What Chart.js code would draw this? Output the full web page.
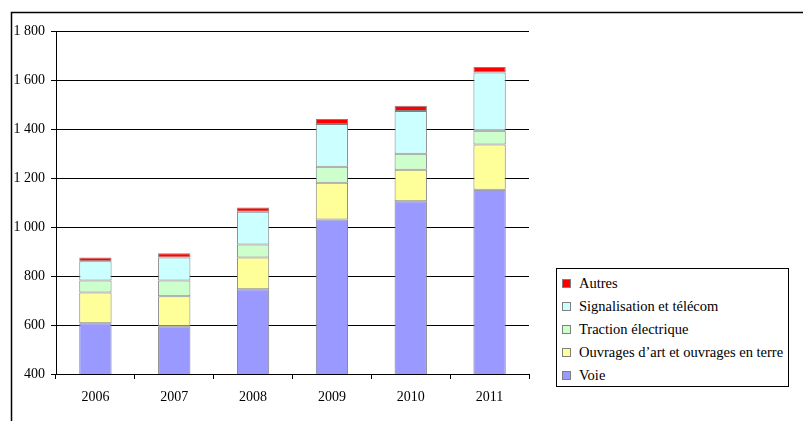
<!DOCTYPE html>
<html>
<head>
<meta charset="utf-8">
<script src="https://cdn.jsdelivr.net/npm/chart.js@4"></script>
<style>
  body { margin: 0; background: #fff; }
  #wrap { position: relative; width: 803px; height: 421px; }
  #legend {
    position: absolute; left: 556px; top: 268px; width: 231px; height: 113px;
    border: 1px solid #000; background: #fff;
    font-family: "Liberation Serif", serif; font-size: 14.5px; color: #000;
    padding-top: 4px; box-sizing: content-box;
  }
  #legend div { height: 23px; line-height: 21px; white-space: nowrap; }
  #legend span.box {
    display: inline-block; width: 7px; height: 7px; border: 1px solid #808080;
    margin: 0 8px 0 5px; vertical-align: 0px;
  }
</style>
</head>
<body>
<div id="wrap">
  <canvas id="chart" width="803" height="421"></canvas>
  <div id="legend"></div>
</div>
<script>
let years = ["2006", "2007", "2008", "2009", "2010", "2011"];
let voie = [607, 595, 746, 1031, 1105, 1152];
let ouvrages = [126, 122, 130, 150, 129, 185];
let traction = [49, 65, 53, 65, 65, 56];
let signalisation = [78, 94, 133, 174, 174, 238];
let autres = [16, 17, 18, 21, 22, 22];
let yTicks = [400, 600, 800, 1000, 1200, 1400, 1600, 1800];

let series = [
  { label: "Voie", data: voie, color: "#9999ff" },
  { label: "Ouvrages d\u2019art et ouvrages en terre", data: ouvrages, color: "#ffff99" },
  { label: "Traction électrique", data: traction, color: "#ccffcc" },
  { label: "Signalisation et télécom", data: signalisation, color: "#ccffff" },
  { label: "Autres", data: autres, color: "#ff0000" }
];

// legend, top item is the last series
let legend = document.getElementById("legend");
for (let i = series.length - 1; i >= 0; i--) {
  let row = document.createElement("div");
  let box = document.createElement("span");
  box.className = "box";
  box.style.background = series[i].color;
  row.appendChild(box);
  row.appendChild(document.createTextNode(series[i].label));
  legend.appendChild(row);
}

// outer frame (top and left lines only)
let framePlugin = {
  id: "frame",
  afterDraw(chart) {
    let c = chart.ctx;
    c.save();
    c.strokeStyle = "#000";
    c.lineWidth = 1.5;
    c.beginPath();
    c.moveTo(803, 12.5);
    c.lineTo(11.5, 12.5);
    c.lineTo(11.5, 421);
    c.stroke();
    c.restore();
  }
};

let font = { family: "'Liberation Serif', serif", size: 14 };

new Chart(document.getElementById("chart"), {
  type: "bar",
  data: {
    labels: years,
    datasets: series.map(s => ({
      label: s.label,
      data: s.data,
      backgroundColor: s.color,
      borderColor: "#808080",
      borderWidth: 1,
      borderSkipped: false,
      barPercentage: 0.41,
      categoryPercentage: 1
    }))
  },
  options: {
    responsive: false,
    animation: false,
    layout: { padding: { left: 12, top: 31, right: 274, bottom: 0 } },
    plugins: { legend: { display: false }, tooltip: { enabled: false } },
    scales: {
      x: {
        stacked: true,
        grid: { drawOnChartArea: false, color: "#000", tickLength: 5, tickColor: "#000" },
        border: { color: "#000", width: 1 },
        ticks: { color: "#000", font: font, padding: 10, maxRotation: 0 },
        afterFit(scale) { scale.height = 47; }
      },
      y: {
        stacked: true,
        min: 400,
        max: 1800,
        afterBuildTicks(scale) { scale.ticks = yTicks.map(v => ({ value: v })); },
        grid: { color: "#000", lineWidth: 1, tickLength: 5, tickColor: "#000" },
        border: { color: "#000", width: 1 },
        ticks: {
          color: "#000", font: font, padding: 6,
          callback: v => String(v).replace(/\B(?=(\d{3})+(?!\d))/g, " ")
        },
        afterFit(scale) { scale.width = 44; }
      }
    }
  },
  plugins: [framePlugin]
});
</script>
</body>
</html>
